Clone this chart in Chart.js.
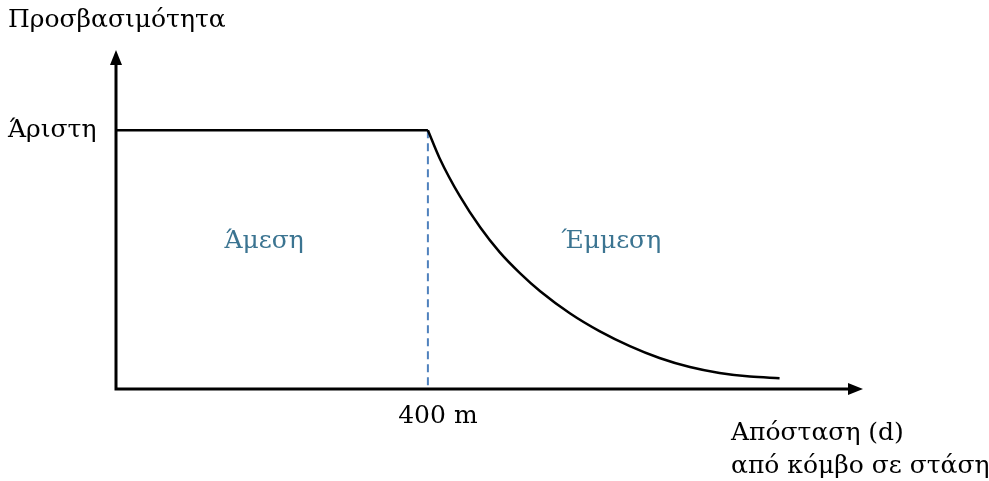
<!DOCTYPE html>
<html>
<head>
<meta charset="utf-8">
<script src="https://cdn.jsdelivr.net/npm/chart.js@4.4.1/dist/chart.umd.min.js"></script>
<style>
  html, body { margin: 0; padding: 0; background: #fff; }
  #wrap { width: 989px; height: 481px; }
</style>
</head>
<body>
<div id="wrap"><canvas id="accessChart"></canvas></div>
<script>
// values (distance in m, accessibility in % of "best")
const flatDistance = [0, 400];
const flatAccess = [100, 100];
const decayDistance = [400, 415, 441, 467, 492, 518, 544, 582, 620, 659, 697, 736, 774, 813, 851];
const decayAccess = [100, 89.2, 74.5, 62.5, 52.9, 44.8, 37.8, 29.3, 22.4, 16.6, 12.0, 8.5, 6.2, 4.8, 4.2];

const xTick = 400;
const xTickLabel = '400 m';
const yTick = 100;
const yTickLabel = 'Άριστη';
const yAxisTitle = 'Προσβασιμότητα';
const xAxisTitle = ['Απόσταση (d)', 'από κόμβο σε στάση'];
const zoneLabels = ['Άμεση', 'Έμμεση'];
const zoneCentres = [190, 635]; // x positions (m) of the zone labels
const zoneLevel = 57;

const serif = '"DejaVu Serif", "Liberation Serif", serif';

function toPoints(xs, ys) {
  return xs.map((x, i) => ({ x: x, y: ys[i] }));
}

// draws axes with arrows, the dashed 400 m marker and all the text
const sketchPlugin = {
  id: 'sketch',
  beforeDatasetsDraw(chart) {
    const { ctx, chartArea: a, scales: { x, y } } = chart;
    const px = x.getPixelForValue(xTick);
    const py = y.getPixelForValue(yTick);
    ctx.save();
    ctx.strokeStyle = '#4f81bd';
    ctx.lineWidth = 2;
    ctx.setLineDash([8, 5]);
    ctx.beginPath();
    ctx.moveTo(px, py);
    ctx.lineTo(px, a.bottom);
    ctx.stroke();
    ctx.restore();
  },
  afterDatasetsDraw(chart) {
    const { ctx, chartArea: a, scales: { x, y } } = chart;
    ctx.save();
    // axes
    ctx.strokeStyle = '#000';
    ctx.fillStyle = '#000';
    ctx.lineWidth = 3;
    ctx.lineCap = 'square';
    ctx.beginPath();
    ctx.moveTo(a.left, a.top + 12);
    ctx.lineTo(a.left, a.bottom);
    ctx.lineTo(a.right - 12, a.bottom);
    ctx.stroke();
    // arrow heads
    ctx.beginPath();
    ctx.moveTo(a.left, a.top);
    ctx.lineTo(a.left - 6, a.top + 15);
    ctx.lineTo(a.left + 6, a.top + 15);
    ctx.closePath();
    ctx.fill();
    ctx.beginPath();
    ctx.moveTo(a.right, a.bottom);
    ctx.lineTo(a.right - 15, a.bottom - 6);
    ctx.lineTo(a.right - 15, a.bottom + 6);
    ctx.closePath();
    ctx.fill();

    // texts
    ctx.font = '25px ' + serif;
    ctx.fillStyle = '#000';
    ctx.textBaseline = 'middle';
    ctx.textAlign = 'left';
    ctx.fillText(yAxisTitle, 8, 20);
    ctx.fillText(yTickLabel, 8, y.getPixelForValue(yTick));
    ctx.fillText(xAxisTitle[0], 731, 433);
    ctx.fillText(xAxisTitle[1], 731, 466);
    ctx.textAlign = 'center';
    ctx.fillText(xTickLabel, x.getPixelForValue(xTick) + 10, a.bottom + 27);

    ctx.fillStyle = '#3b7491';
    zoneLabels.forEach((t, i) => {
      ctx.fillText(t, x.getPixelForValue(zoneCentres[i]), y.getPixelForValue(zoneLevel));
    });
    ctx.restore();
  }
};

document.addEventListener('DOMContentLoaded', () => {
  const ctxAccess = document.getElementById('accessChart');
  new Chart(ctxAccess, {
    type: 'scatter',
    data: {
      datasets: [{
        data: toPoints(flatDistance, flatAccess),
        showLine: true,
        borderColor: '#000',
        borderWidth: 2.5,
        pointRadius: 0
      }, {
        data: toPoints(decayDistance, decayAccess),
        showLine: true,
        borderColor: '#000',
        borderWidth: 2.5,
        pointRadius: 0,
        cubicInterpolationMode: 'monotone'
      }]
    },
    options: {
      responsive: true,
      maintainAspectRatio: false,
      animation: false,
      layout: { padding: { left: 116, right: 126, top: 50, bottom: 92 } },
      scales: {
        x: { type: 'linear', min: 0, max: 958, display: false },
        y: { type: 'linear', min: 0, max: 131, display: false }
      },
      plugins: {
        legend: { display: false },
        tooltip: { enabled: false }
      }
    },
    plugins: [sketchPlugin]
  });
});
</script>
</body>
</html>
